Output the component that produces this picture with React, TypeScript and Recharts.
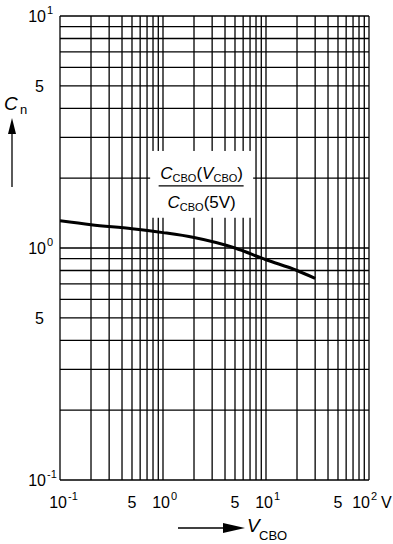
import { LineChart, Line, XAxis, YAxis, CartesianGrid, ReferenceArea } from "recharts"

// grid lines (1..9 per decade)
const gridX = [0.1, 0.2, 0.3, 0.4, 0.5, 0.6, 0.7, 0.8, 0.9, 1, 2, 3, 4, 5, 6, 7, 8, 9, 10, 20, 30, 40, 50, 60, 70, 80, 90, 100]
const gridY = [0.1, 0.2, 0.3, 0.4, 0.5, 0.6, 0.7, 0.8, 0.9, 1, 2, 3, 4, 5, 6, 7, 8, 9, 10]

// labelled ticks: [base, superscript, unit]
const xLabelTicks = [0.1, 0.5, 1, 5, 10, 50, 100]
const xLabelText = [["10", "-1", ""], ["5", "", ""], ["10", "0", ""], ["5", "", ""], ["10", "1", ""], ["5", "", ""], ["10", "2", "V"]]
const yLabelTicks = [0.1, 0.5, 1, 5, 10]
const yLabelText = [["10", "-1"], ["5", ""], ["10", "0"], ["5", ""], ["10", "1"]]

// C_CBO(V_CBO) / C_CBO(5V)
const curveV = [0.1, 0.2, 0.5, 1, 2, 5, 10, 20, 30]
const curveC = [1.31, 1.26, 1.21, 1.165, 1.11, 1.0, 0.89, 0.8, 0.74]

const data = curveV.map((v, i) => ({ v, c: curveC[i] }))

const font = "'Liberation Sans Narrow', 'Liberation Sans', Arial, sans-serif"

const XTick = (props: any) => {
  const { x, payload } = props
  const i = xLabelTicks.indexOf(payload.value)
  if (i < 0) return <g />
  const [base, sup, unit] = xLabelText[i]
  const cx = unit ? x - 6 : x
  const y = 508
  if (!sup) {
    return <text x={cx} y={y} textAnchor="middle" fontSize={16} fontFamily={font} fill="#000">{base}</text>
  }
  return (
    <g fontFamily={font} fill="#000">
      <text x={cx + 7} y={y} textAnchor="end" fontSize={16}>{base}</text>
      <text x={cx + 8} y={y - 8} fontSize={11}>{sup}</text>
      {unit && <text x={cx + 18} y={y} fontSize={16}>{unit}</text>}
    </g>
  )
}

const YTick = (props: any) => {
  const { y, payload } = props
  const i = yLabelTicks.indexOf(payload.value)
  if (i < 0) return <g />
  const [base, sup] = yLabelText[i]
  const by = y + 6
  if (!sup) {
    return <text x={44} y={by} textAnchor="end" fontSize={16} fontFamily={font} fill="#000">{base}</text>
  }
  return (
    <g fontFamily={font} fill="#000">
      <text x={46} y={by} textAnchor="end" fontSize={16}>{base}</text>
      <text x={47} y={by - 8} fontSize={11}>{sup}</text>
    </g>
  )
}

const LabelBox = (props: any) => {
  const { x, y, width, height } = props
  const cx = x + width / 2
  return (
    <g fontFamily={font} fill="#000">
      <rect x={x} y={y} width={width} height={height} fill="#fff" />
      <text x={cx} y={y + 28} textAnchor="middle" fontSize={17}>
        <tspan fontStyle="italic">C</tspan>
        <tspan fontSize={11} dy={3}>CBO</tspan>
        <tspan dy={-3}>(</tspan>
        <tspan fontStyle="italic">V</tspan>
        <tspan fontSize={11} dy={3}>CBO</tspan>
        <tspan dy={-3}>)</tspan>
      </text>
      <line x1={cx - 43} x2={cx + 42} y1={y + 35} y2={y + 35} stroke="#000" strokeWidth={1.3} />
      <text x={cx} y={y + 57} textAnchor="middle" fontSize={17}>
        <tspan fontStyle="italic">C</tspan>
        <tspan fontSize={11} dy={3}>CBO</tspan>
        <tspan dy={-3}>(5V)</tspan>
      </text>
    </g>
  )
}

export default function App() {
  return (
    <div style={{ position: "absolute", left: 0, top: 0, width: 393, height: 544, background: "#fff" }}>
      <LineChart width={393} height={544} data={data} margin={{ top: 16, right: 24, left: 0, bottom: 0 }}>
        <CartesianGrid stroke="#000" strokeWidth={1.3} />
        <XAxis
          dataKey="v"
          type="number"
          scale="log"
          domain={[0.1, 100]}
          ticks={gridX}
          interval={0}
          allowDataOverflow
          axisLine={false}
          tickLine={false}
          tick={<XTick />}
          height={64}
        />
        <YAxis
          type="number"
          scale="log"
          domain={[0.1, 10]}
          ticks={gridY}
          interval={0}
          allowDataOverflow
          axisLine={false}
          tickLine={false}
          tick={<YTick />}
          width={60}
        />
        <ReferenceArea x1={0.75} x2={7.5} y1={1.35} y2={2.62} shape={<LabelBox />} ifOverflow="visible" />
        <Line dataKey="c" type="monotone" stroke="#000" strokeWidth={3} dot={false} isAnimationActive={false} />
      </LineChart>
      <svg width={393} height={544} style={{ position: "absolute", left: 0, top: 0, pointerEvents: "none" }}>
        <g fontFamily={font} fill="#000">
          <text x={4} y={110} fontSize={19} fontStyle="italic">C</text>
          <text x={20} y={114} fontSize={13}>n</text>
          <line x1={12} x2={12} y1={130} y2={187} stroke="#000" strokeWidth={1.3} />
          <polygon points="12,118 8,134 16,134" />
          <line x1={178} x2={226} y1={528} y2={528} stroke="#000" strokeWidth={1.3} />
          <polygon points="245,528 223,523 223,533" />
          <text x={247} y={532} fontSize={19} fontStyle="italic">V</text>
          <text x={259} y={540} fontSize={13}>CBO</text>
        </g>
      </svg>
    </div>
  )
}
